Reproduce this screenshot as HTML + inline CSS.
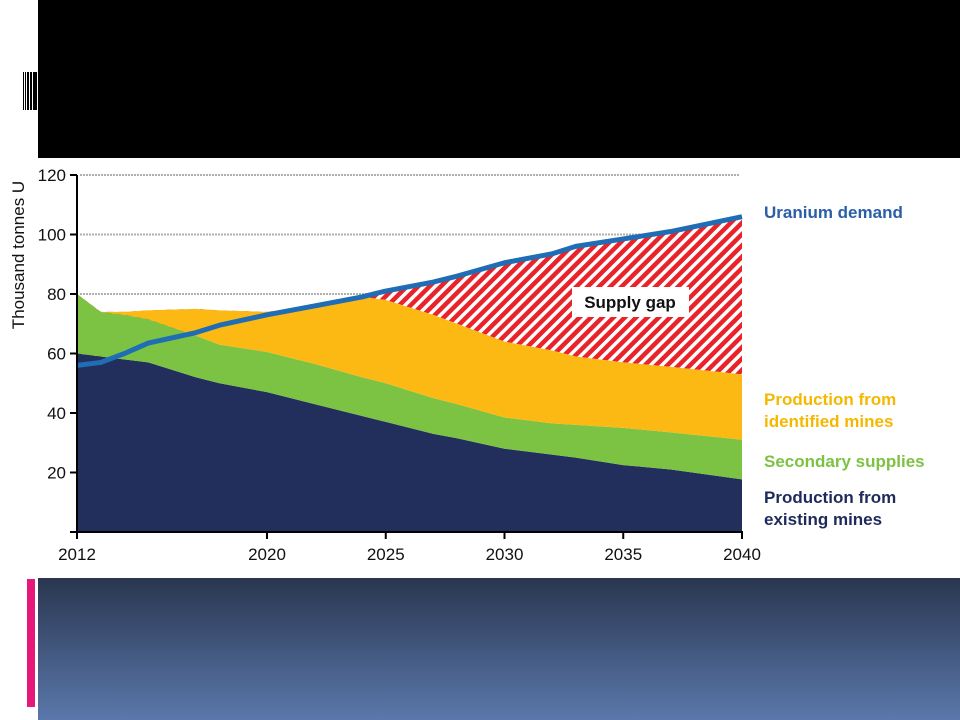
<!DOCTYPE html>
<html><head><meta charset="utf-8"><style>
html,body{margin:0;padding:0;background:#fff;width:960px;height:720px;overflow:hidden;font-family:"Liberation Sans",sans-serif;}
</style></head><body>
<svg width="960" height="720" viewBox="0 0 960 720" xmlns="http://www.w3.org/2000/svg">
<defs>
<linearGradient id="bg" x1="0" y1="0" x2="0" y2="1"><stop offset="0" stop-color="#2a364f"/><stop offset="1" stop-color="#5a78ab"/></linearGradient>
<pattern id="hatch" width="8" height="8" patternUnits="userSpaceOnUse" patternTransform="rotate(45)">
<rect width="8" height="8" fill="#ffffff"/><rect width="4.5" height="8" fill="#e8232a"/></pattern>
</defs>
<rect x="38" y="0" width="922" height="158" fill="#000"/>
<g>
<rect x="23" y="72" width="1" height="38" fill="#000"/><rect x="25" y="72" width="1" height="38" fill="#000"/><rect x="27" y="72" width="2" height="38" fill="#000"/><rect x="30" y="72" width="2" height="38" fill="#000"/><rect x="33" y="72" width="4" height="38" fill="#000"/>
</g>
<rect x="38" y="578" width="922" height="142" fill="url(#bg)"/>
<rect x="27" y="579" width="8" height="128" fill="#e6187a"/>
<g id="chart"></g>
</svg>
<script>
const years=[2012,2013,2014,2015,2017,2018,2020,2022,2024,2025,2027,2028,2030,2032,2033,2035,2037,2040];
const existing=[60,59,58,57,52,50,47,43,39,37,33,31.5,28,26,25,22.5,21,17.7];
const secondary=[20,15,15,14.5,14,13,13.5,13.5,13,13,12,11.5,10.5,10.5,11,12.5,12.5,13.3];
const identified=[0,0,1,3,9,11.5,13.5,19.5,27,28,28,27,25.5,24.5,23,22,22,22];
const demand=[56,57,60,63.5,67,69.5,73,76,79,81,84,86,90.5,93.5,96,98.5,101,106];
const yTicks=[20,40,60,80,100,120];
const xTicks=[2012,2020,2025,2030,2035,2040];
const gridVals=[80,100,120];
const NS='http://www.w3.org/2000/svg';
const g=document.getElementById('chart');
const X=y=>77+(y-2012)*(742-77)/28;
const Y=v=>532-v*(532-175)/120;
function mk(t,a){const e=document.createElementNS(NS,t);for(const k in a)e.setAttribute(k,a[k]);g.appendChild(e);return e;}
const s1=existing.map(v=>v);
const s2=existing.map((v,i)=>v+secondary[i]);
const s3=s2.map((v,i)=>v+identified[i]);
function pts(arr){return arr.map((v,i)=>X(years[i])+','+Y(v));}
function band(lo,hi){const top=pts(hi);const bot=lo?pts(lo).reverse():[X(2040)+','+Y(0),X(2012)+','+Y(0)];return top.concat(bot).join(' ');}
gridVals.forEach(v=>{const l=mk('line',{x1:80,x2:740,y1:Y(v),y2:Y(v),stroke:'#b0b0b0','stroke-width':2,'stroke-dasharray':'2 1'});

});
let p=mk('polygon',{points:band(s3,demand),fill:'url(#hatch)'});


p=mk('polygon',{points:band(null,s1),fill:'#222e5c'});


p=mk('polygon',{points:band(s1,s2),fill:'#7cc243'});


p=mk('polygon',{points:band(s2,s3),fill:'#fdb913'});


p=mk('polyline',{points:pts(demand).join(' '),fill:'none',stroke:'#1f6db5','stroke-width':5,'stroke-linejoin':'round'});


let a=mk('line',{x1:77,x2:77,y1:175,y2:533,stroke:'#000','stroke-width':2});


a=mk('line',{x1:70,x2:743,y1:532,y2:532,stroke:'#000','stroke-width':2});


yTicks.forEach(v=>{mk('line',{x1:70,x2:77,y1:Y(v),y2:Y(v),stroke:'#000','stroke-width':2});
const t=mk('text',{x:66,y:Y(v)+6,'text-anchor':'end','font-size':17,fill:'#111'});t.textContent=v;

});
xTicks.forEach(v=>{mk('line',{x1:X(v),x2:X(v),y1:532,y2:539,stroke:'#000','stroke-width':2});
const t=mk('text',{x:X(v),y:560,'text-anchor':'middle','font-size':17,fill:'#111'});t.textContent=v;

});
let t=mk('text',{x:24,y:255,'text-anchor':'middle','font-size':17,fill:'#111',transform:'rotate(-90 24 255)'});t.textContent='Thousand tonnes U';


let b=mk('rect',{x:572,y:287,width:117,height:30,fill:'#fff'});


t=mk('text',{x:630,y:308,'text-anchor':'middle','font-size':17,'font-weight':'bold',fill:'#111'});t.textContent='Supply gap';


const labels=[['Uranium demand',218,'#2a5ea8','legend-demand'],['Production from',405,'#f5b800','legend-identified-1'],['identified mines',427,'#f5b800','legend-identified-2'],['Secondary supplies',467,'#7dc242','legend-secondary'],['Production from',503,'#1f2a5c','legend-existing-1'],['existing mines',525,'#1f2a5c','legend-existing-2']];
labels.forEach(l=>{const e=mk('text',{x:764,y:l[1],'font-size':17,'font-weight':'bold',fill:l[2]});e.textContent=l[0];

});
</script>
</body></html>
